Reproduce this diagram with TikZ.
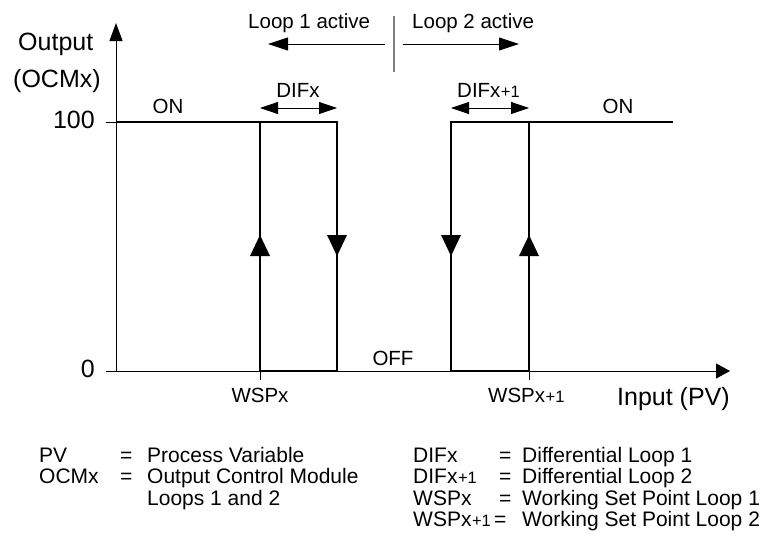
\documentclass[tikz,border=0pt]{standalone}
\usepackage{fontspec}
\setmainfont{Liberation Sans}
\usetikzlibrary{arrows.meta}
\newcommand\plusone{{\fontsize{16.5}{18}\selectfont\kern0.5pt+1}}
\begin{document}
\begin{tikzpicture}[x=1pt,y=-1pt,
  big/.style={font=\fontsize{25}{30}\selectfont, inner sep=0pt},
  small/.style={font=\fontsize{20.5}{24}\selectfont, inner sep=0pt},
  leg/.style={font=\fontsize{21}{24}\selectfont, inner sep=0pt, anchor=base west},
  axisline/.style={line width=1pt},
  hyst/.style={line width=2.4pt, line join=miter},
  tri/.style={fill=black},
  dimarrow/.style={line width=0.8pt, {Triangle[length=18pt,width=12pt]}-{Triangle[length=18pt,width=12pt]}},
  looparrow/.style={line width=0.9pt, -{Triangle[length=20pt,width=13pt]}}
]
\useasboundingbox (0,0) rectangle (767,544);
% key points
\coordinate (o) at (116,371);
\coordinate (ytop) at (116,23);
\coordinate (xl) at (106,371);
\coordinate (xr) at (730,371);
\coordinate (t100a) at (106,122);
\coordinate (t100b) at (116,122);
\coordinate (a1) at (260,122); \coordinate (a0) at (260,371);
\coordinate (b1) at (337,122); \coordinate (b0) at (337,371);
\coordinate (c1) at (451,122); \coordinate (c0) at (451,371);
\coordinate (d1) at (529,122); \coordinate (d0) at (529,371);
\coordinate (onR) at (673,122);
% axes
\draw[axisline, -{Triangle[length=18pt,width=13pt]}] (o) -- (ytop);
\draw[axisline, -{Triangle[length=14pt,width=15pt]}] (xl) -- (xr);
\draw[axisline] (t100a) -- (t100b);
\draw[axisline] (a0) -- ++(0,9);
\draw[axisline] (d0) -- ++(0,9);
% hysteresis loops
\draw[hyst] (t100b) -- (b1) -- (b0) -- (a0) -- (a1);
\draw[hyst] (onR) -- (c1) -- (c0) -- (d0) -- (d1);
% direction triangles
\fill[tri] (260,235) -- (270,256) -- (250,256) -- cycle;
\fill[tri] (337,256) -- (347,235) -- (327,235) -- cycle;
\fill[tri] (451,256) -- (461,235) -- (441,235) -- cycle;
\fill[tri] (529,235) -- (539,256) -- (519,256) -- cycle;
% differential arrows
\draw[dimarrow] (260,108) -- (337,108);
\draw[dimarrow] (451,108) -- (529,108);
% loop active arrows
\coordinate (l1s) at (385,44); \coordinate (l1e) at (268,44);
\coordinate (l2s) at (403,44); \coordinate (l2e) at (519,44);
\draw[looparrow] (l1s) -- (l1e);
\draw[looparrow] (l2s) -- (l2e);
\coordinate (sepT) at (394,16); \coordinate (sepB) at (394,72);
\draw[line width=1.3pt, black!50] (sepT) -- (sepB);
% labels
\node[big, anchor=base west] (lout) at (18,50) {Output};
\node[big, anchor=base west] (locm) at (13,87) {(OCMx)};
\node[big, anchor=base east] (l100) at (95,128) {100};
\node[big, anchor=base east] (l0) at (95,377) {0};
\node[big, anchor=base west] (lin) at (617,405) {Input (PV)};
\node[small, anchor=base west] (lp1) at (248,28) {Loop 1 active};
\node[small, anchor=base west] (lp2) at (412,28) {Loop 2 active};
\node[small, anchor=base] (ldif) at (298,97) {DIFx};
\node[small, anchor=base west] (ldif2) at (457,97) {DIFx\plusone};
\node[small, anchor=base] (lon1) at (168,113) {ON};
\node[small, anchor=base] (lon2) at (618,113) {ON};
\node[small, anchor=base] (loff) at (393,365) {OFF};
\node[small, anchor=base] (lwsp) at (260,402) {WSPx};
\node[small, anchor=base west] (lwsp2) at (488,402) {WSPx\plusone};
% legend
\node[leg] (g1a) at (39,462) {PV};
\node[leg] (g1b) at (120,462) {=};
\node[leg] (g1c) at (147,462) {Process Variable};
\node[leg] (g2a) at (39,483.5) {OCMx};
\node[leg] (g2b) at (120,483.5) {=};
\node[leg] (g2c) at (147,483.5) {Output Control Module};
\node[leg] (g3c) at (147,505) {Loops 1 and 2};
\node[leg] (h1a) at (413,462) {DIFx};
\node[leg] (h1b) at (499,462) {=};
\node[leg] (h1c) at (522,462) {Differential Loop 1};
\node[leg] (h2a) at (413,483.5) {DIFx\plusone};
\node[leg] (h2b) at (499,483.5) {=};
\node[leg] (h2c) at (522,483.5) {Differential Loop 2};
\node[leg] (h3a) at (413,505) {WSPx};
\node[leg] (h3b) at (499,505) {=};
\node[leg] (h3c) at (522,505) {Working Set Point Loop 1};
\node[leg] (h4a) at (413,526.5) {WSPx\plusone};
\node[leg] (h4b) at (494,526.5) {=};
\node[leg] (h4c) at (522,526.5) {Working Set Point Loop 2};
\end{tikzpicture}
\end{document}
